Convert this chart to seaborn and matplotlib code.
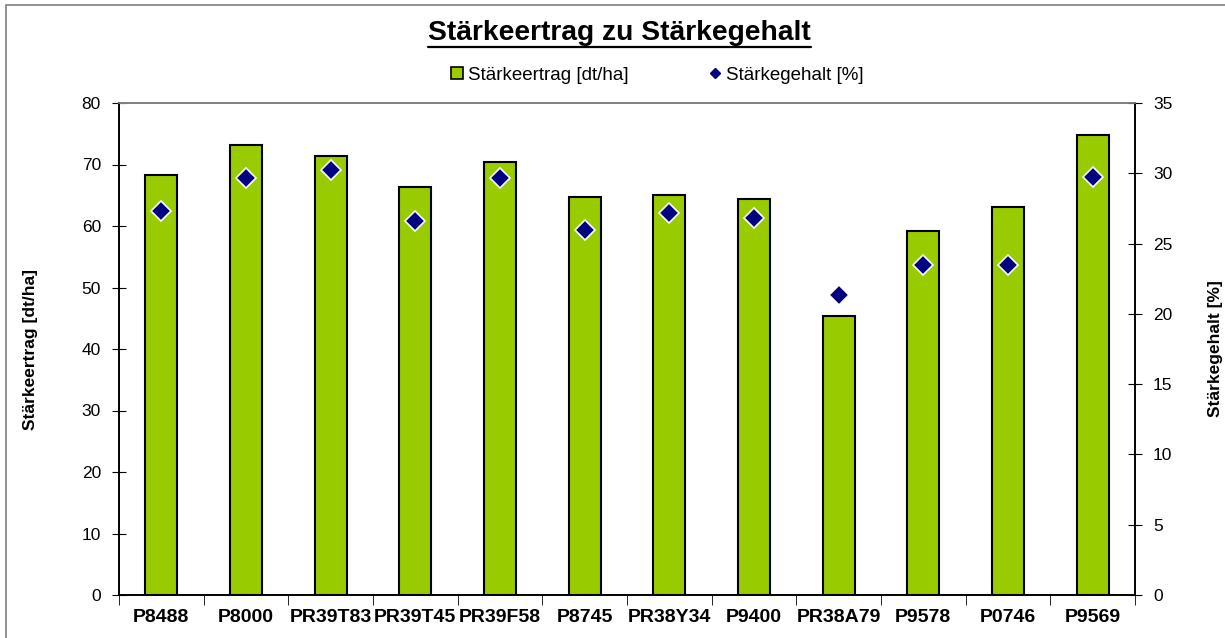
import numpy as np
import pandas as pd
import seaborn as sns
import matplotlib
matplotlib.use("Agg")
import matplotlib.pyplot as plt
from matplotlib.lines import Line2D
from matplotlib.patches import Rectangle

# Daten
sorten = ["P8488", "P8000", "PR39T83", "PR39T45", "PR39F58", "P8745",
          "PR38Y34", "P9400", "PR38A79", "P9578", "P0746", "P9569"]
ertrag = [68.3, 73.1, 71.4, 66.3, 70.4, 64.7, 65.1, 64.4, 45.3, 59.2, 63.1, 74.8]
gehalt = [27.3, 29.7, 30.2, 26.6, 29.7, 26.0, 27.15, 26.85, 21.35, 23.5, 23.5, 29.75]

df = pd.DataFrame({"Sorte": sorten, "Ertrag": ertrag, "Gehalt": gehalt})

gruen = "#99CC00"
blau = "#000080"

sns.set_style("white")
plt.rcParams["font.family"] = ["Liberation Sans", "DejaVu Sans"]
plt.rcParams["text.color"] = "black"
plt.rcParams["axes.labelcolor"] = "black"
plt.rcParams["xtick.color"] = "black"
plt.rcParams["ytick.color"] = "black"

fig = plt.figure(figsize=(12.25, 6.38), dpi=100)
ax = fig.add_axes([119 / 1225, 43 / 638, 1016 / 1225, 492 / 638])

sns.barplot(data=df, x="Sorte", y="Ertrag", color=gruen, saturation=1,
            edgecolor="black", linewidth=1.5, width=0.38, ax=ax)

ax2 = ax.twinx()
sns.pointplot(data=df, x="Sorte", y="Gehalt", color=blau, errorbar=None,
              marker="D", linestyle="none", markersize=10,
              markeredgecolor="white", markeredgewidth=1.2, ax=ax2)

ax.set_xlim(-0.5, len(sorten) - 0.5)
ax.set_ylim(0, 80)
ax.set_yticks(range(0, 81, 10))
ax2.set_ylim(0, 35)
ax2.set_yticks(range(0, 36, 5))

# Achsen
for a in (ax, ax2):
    for s in a.spines.values():
        s.set_color("black")
        s.set_linewidth(1.2)
    a.spines["top"].set_color("#808080")
    a.grid(False)

ax.set_xticks(np.arange(len(sorten)))
ax.set_xticklabels(sorten, fontsize=14, fontweight="bold")
ax.set_xticks(np.arange(len(sorten) + 1) - 0.5, minor=True)
ax.tick_params(axis="x", which="major", length=0, pad=10)
ax.tick_params(axis="x", which="minor", bottom=True, direction="out", length=7)
ax.tick_params(axis="y", left=True, direction="inout", length=10, labelsize=12.5, pad=8)
ax2.tick_params(axis="y", right=True, direction="inout", length=10, labelsize=12.5, pad=8)
ax2.tick_params(axis="x", which="both", length=0)

ax.set_xlabel("")
ax.set_ylabel("Stärkeertrag [dt/ha]", fontsize=12.5, fontweight="bold")
ax.yaxis.set_label_coords(-0.08, 0.5)
ax2.set_xlabel("")
ax2.set_ylabel("Stärkegehalt [%]", fontsize=12.5, fontweight="bold")
ax2.yaxis.set_label_coords(1.072, 0.5)

# Titel mit Unterstreichung
titel = fig.text(0.5057, 1 - 33 / 638, "Stärkeertrag zu Stärkegehalt",
                 ha="center", va="center", fontsize=20.3, fontweight="bold")
fig.canvas.draw()
bb = titel.get_window_extent().transformed(fig.transFigure.inverted())
fig.add_artist(Line2D([bb.x0, bb.x1], [1 - 47 / 638] * 2, color="black", lw=1.6))

# Legende
handles = [
    Line2D([], [], marker="s", linestyle="none", markersize=8,
           markerfacecolor=gruen, markeredgecolor="black", markeredgewidth=1.2),
    Line2D([], [], marker="D", linestyle="none", markersize=5,
           markerfacecolor=blau, markeredgecolor=blau),
]
fig.legend(handles, ["Stärkeertrag [dt/ha]", "Stärkegehalt [%]"],
           loc="center", bbox_to_anchor=(0.536, 1 - 75 / 638), ncol=2,
           frameon=False, fontsize=13.5, handlelength=0.8, handletextpad=0.2,
           columnspacing=4.2)

# Rahmen
fig.add_artist(Rectangle((6 / 1225, -0.05), 1.2, 1.05 - 5 / 638,
                         transform=fig.transFigure, fill=False,
                         edgecolor="#808080", lw=1.2))

fig.savefig("out.png", dpi=100)
